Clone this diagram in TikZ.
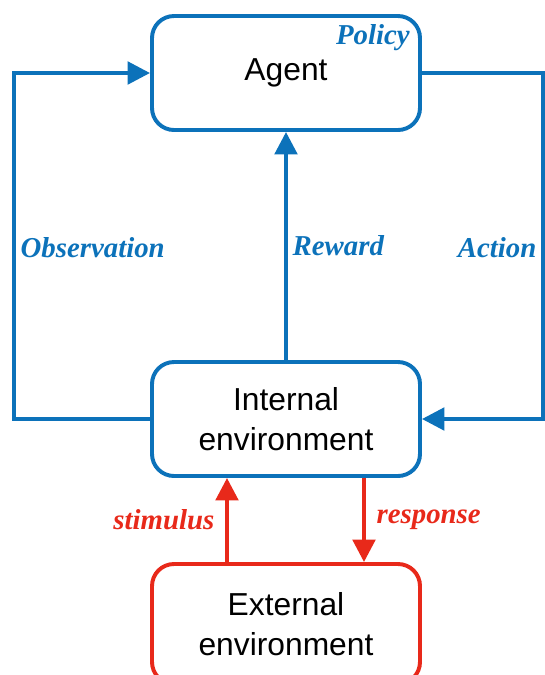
\documentclass[tikz,border=0pt]{standalone}
\usepackage{fontspec}
\setmainfont{Liberation Serif}
\setsansfont{Liberation Sans}
\usetikzlibrary{arrows.meta}
\definecolor{agblue}{RGB}{12,114,186}
\definecolor{exred}{RGB}{232,41,26}
\tikzset{bx/.style = {rectangle, rounded corners=0.55cm, line width=2.8pt, draw=agblue, fill=white,
        minimum width=6.7cm, minimum height=2.85cm, align=center, font=\sffamily\fontsize{22.6}{28.4}\selectfont},
    rbx/.style = {bx, draw=exred, minimum height=3.0cm},
    ln/.style  = {line width=2.8pt, draw=agblue},
    rln/.style = {line width=2.8pt, draw=exred},
    lb/.style  = {text=agblue, font=\fontsize{20.5}{24}\selectfont\bfseries\itshape},
    rlb/.style = {lb, text=exred}}

\begin{document}
\begin{tikzpicture}[>={Triangle[length=16pt, width=16pt]}]
        \useasboundingbox (0,0) rectangle (13.625,-16.875);
        \node[bx] (agent) at (7.15,-1.825) {Agent};
        \node[bx] (internal) at (7.15,-10.475) {Internal\\environment};
        \node[rbx] (external) at (7.15,-15.6) {External\\environment};
        \node[lb, anchor=base east, inner sep=0pt] (policy) at ([xshift=-0.3cm, yshift=-0.75cm]agent.north east) {Policy};

        \coordinate (lft) at (0.35,-6.2);
        \coordinate (rgt) at (13.575,-6.2);

        \draw[ln, ->] (internal.west) -| (lft) node[lb, right] {Observation} |- (agent.west);
        \draw[ln, ->] (agent.east) -| (rgt) node[lb, left] {Action} |- (internal.east);
        \draw[ln, ->] (internal.north) -- node[lb, right] {Reward} (agent.south);

        \draw[rln, ->] ([xshift=-1.475cm]external.north) -- node[rlb, left, xshift=-0.15cm] {stimulus} ([xshift=-1.475cm]internal.south);
        \draw[rln, ->] ([xshift=1.95cm]internal.south) -- node[rlb, right, xshift=0.15cm] {response} ([xshift=1.95cm]external.north);
    \end{tikzpicture}
\end{document}
